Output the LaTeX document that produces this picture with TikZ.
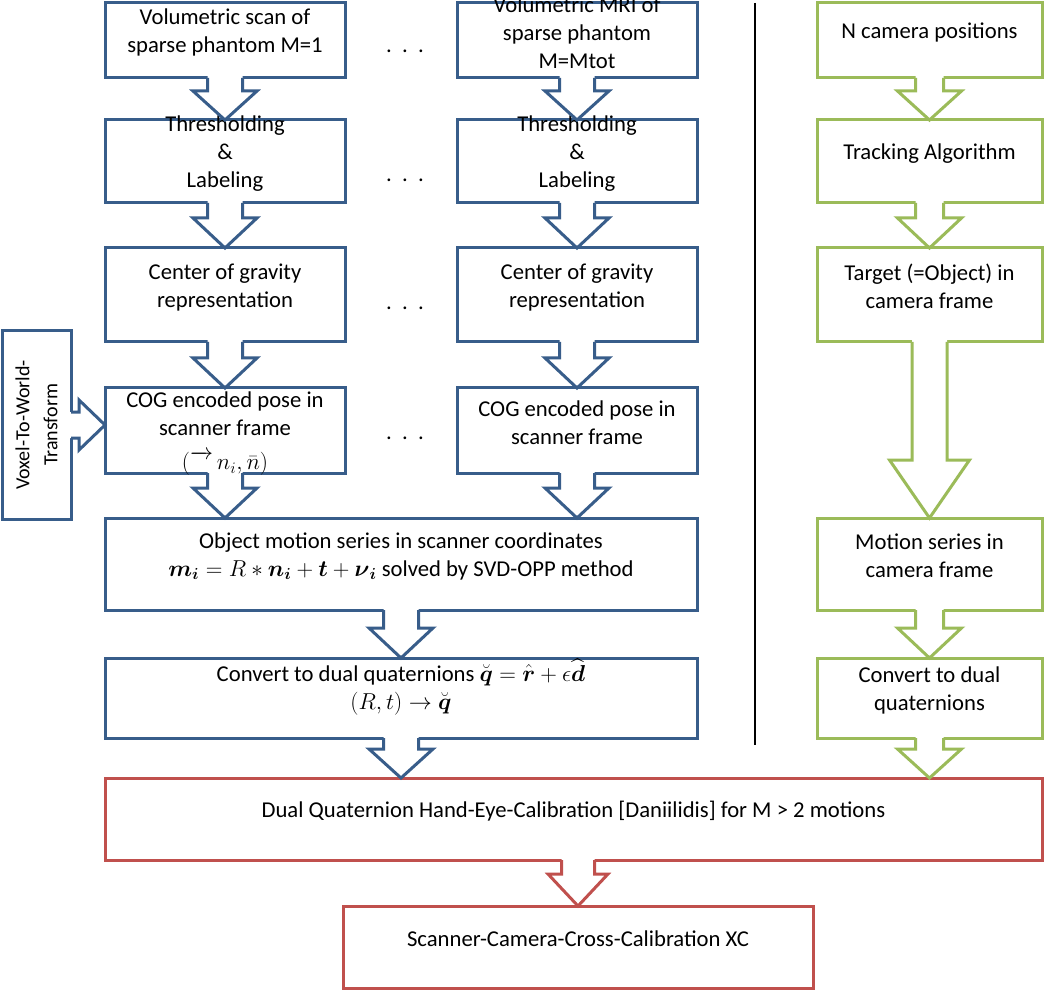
\documentclass[tikz,border=0pt]{standalone}
\usepackage{amsmath}
\usepackage{fontspec}
\setmainfont{Carlito}
\usetikzlibrary{calc,fit}
\definecolor{cblue}{HTML}{385D8A}
\definecolor{cgreen}{HTML}{9BBB59}
\definecolor{cred}{HTML}{C0504D}
\tikzset{
  base/.style={draw, line width=2.25pt, fill=white, inner sep=0pt, outer sep=0pt,
    align=center, font=\fontsize{17pt}{21pt}\selectfont, line join=miter},
  bbox/.style={base, draw=cblue},
  gbox/.style={base, draw=cgreen},
  rbox/.style={base, draw=cred},
  txt/.style={align=center, font=\fontsize{17pt}{21pt}\selectfont, inner sep=0pt},
  dotsnode/.style={anchor=base, font=\fontsize{17pt}{21pt}\selectfont, inner sep=0pt},
}
% block arrow downwards: #1 from, #2 to, #3 colour, #4 node giving x, #5 half shaft, #6 half head, #7 head length (px)
\newcommand{\bdown}[7]{%
  \fill[white] let \p1=(#1.south), \p2=(#2.north), \p3=(#4.center) in
    (\x3-#5*0.75pt,\y1+2pt) -- (\x3-#5*0.75pt,\y2+#7*0.75pt) -- (\x3-#6*0.75pt,\y2+#7*0.75pt)
    -- (\x3,\y2) -- (\x3+#6*0.75pt,\y2+#7*0.75pt) -- (\x3+#5*0.75pt,\y2+#7*0.75pt)
    -- (\x3+#5*0.75pt,\y1+2pt) -- cycle;
  \draw[#3, line width=2.25pt, line join=miter] let \p1=(#1.south), \p2=(#2.north), \p3=(#4.center) in
    (\x3-#5*0.75pt,\y1) -- (\x3-#5*0.75pt,\y2+#7*0.75pt) -- (\x3-#6*0.75pt,\y2+#7*0.75pt)
    -- (\x3,\y2) -- (\x3+#6*0.75pt,\y2+#7*0.75pt) -- (\x3+#5*0.75pt,\y2+#7*0.75pt)
    -- (\x3+#5*0.75pt,\y1);
}
% block arrow to the right
\newcommand{\bright}[6]{%
  \fill[white] let \p1=(#1.east), \p2=(#2.west) in
    (\x1-2pt,\y1+#4*0.75pt) -- (\x2-#6*0.75pt,\y1+#4*0.75pt) -- (\x2-#6*0.75pt,\y1+#5*0.75pt)
    -- (\x2,\y1) -- (\x2-#6*0.75pt,\y1-#5*0.75pt) -- (\x2-#6*0.75pt,\y1-#4*0.75pt)
    -- (\x1-2pt,\y1-#4*0.75pt) -- cycle;
  \draw[#3, line width=2.25pt, line join=miter] let \p1=(#1.east), \p2=(#2.west) in
    (\x1,\y1+#4*0.75pt) -- (\x2-#6*0.75pt,\y1+#4*0.75pt) -- (\x2-#6*0.75pt,\y1+#5*0.75pt)
    -- (\x2,\y1) -- (\x2-#6*0.75pt,\y1-#5*0.75pt) -- (\x2-#6*0.75pt,\y1-#4*0.75pt)
    -- (\x1,\y1-#4*0.75pt);
}
\begin{document}
\begin{tikzpicture}[x=0.75pt,y=-0.75pt]
\useasboundingbox (0,0) rectangle (1050,991);
\fill[white] (0,0) rectangle (1050,991);

% left column A
\node[bbox, fit={(105,3) (345,78)}] (a1) {Volumetric scan of\\sparse phantom M=1};
\node[bbox, fit={(105,120) (345,203)}] (a2) {Thresholding\\\&\\Labeling};
\node[bbox, fit={(105,248) (345,342)}] (a3) {Center of gravity\\representation};
\node[bbox, fit={(105,388) (345,473)}] (a4) {};

% left column B
\node[bbox, fit={(457,3) (697,78)}] (b1) {Volumetric MRI of\\sparse phantom\\M=Mtot};
\node[bbox, fit={(457,120) (697,203)}] (b2) {Thresholding\\\&\\Labeling};
\node[bbox, fit={(457,248) (697,342)}] (b3) {Center of gravity\\representation};
\node[bbox, fit={(457,388) (697,473)}] (b4) {COG encoded pose in\\scanner frame};

% dots
\node[dotsnode] (d1) at (405,53) {.\hspace{0.45em}.\hspace{0.45em}.};
\node[dotsnode] (d2) at (405,182) {.\hspace{0.45em}.\hspace{0.45em}.};
\node[dotsnode] (d3) at (405,310) {.\hspace{0.45em}.\hspace{0.45em}.};
\node[dotsnode] (d4) at (405,440) {.\hspace{0.45em}.\hspace{0.45em}.};

% voxel
\node[bbox, fit={(2,331) (71,519)}] (vx) {};
\node[rotate=90, align=center, font=\fontsize{15pt}{21pt}\selectfont, inner sep=0pt] (vxt) at (vx.center) {Voxel-To-World-\\Transform};

% merged
\node[bbox, fit={(105,518) (697,610)}] (m5) {Object motion series in scanner coordinates\\
  $\boldsymbol{m}_{\boldsymbol{i}} = R \ast \boldsymbol{n}_{\boldsymbol{i}} + \boldsymbol{t} + \boldsymbol{\nu}_{\boldsymbol{i}}$ solved by SVD-OPP method};
\node[bbox, fit={(105,658) (697,738)}] (m6) {Convert to dual quaternions $\breve{\boldsymbol{q}} = \hat{\boldsymbol{r}} + \epsilon\widehat{\boldsymbol{d}}$\\
  $(R,t) \rightarrow \breve{\boldsymbol{q}}$};

% right column
\node[gbox, fit={(817,3) (1042,78)}] (c1) {N camera positions};
\node[gbox, fit={(817,120) (1042,203)}] (c2) {Tracking Algorithm};
\node[gbox, fit={(817,248) (1042,342)}] (c3) {Target (=Object) in\\camera frame};
\node[gbox, fit={(817,518) (1042,610)}] (c5) {Motion series in\\camera frame};
\node[gbox, fit={(817,658) (1042,738)}] (c6) {Convert to dual\\quaternions};

% red
\node[rbox, fit={(105,778) (1042,860)}] (r1) {Dual Quaternion Hand-Eye-Calibration [Daniilidis] for M > 2 motions};
\node[rbox, fit={(343,906) (813,988)}] (r2) {Scanner-Camera-Cross-Calibration XC};

% separator
\coordinate (s1) at (755,3);
\coordinate (s2) at (755,745);
\draw[line width=1.5pt] (s1) -- (s2);

% arrows
\bdown{a1}{a2}{cblue}{a1}{17.5}{32}{29}
\bdown{a2}{a3}{cblue}{a2}{17.5}{32}{30}
\bdown{a3}{a4}{cblue}{a3}{17.5}{32}{30}
\bdown{a4}{m5}{cblue}{a4}{17.5}{32}{30}
\bdown{b1}{b2}{cblue}{b1}{17.5}{32}{29}
\bdown{b2}{b3}{cblue}{b2}{17.5}{32}{30}
\bdown{b3}{b4}{cblue}{b3}{17.5}{32}{30}
\bdown{b4}{m5}{cblue}{b4}{17.5}{32}{30}
\bdown{m5}{m6}{cblue}{m5}{17.5}{32}{30}
\bdown{m6}{r1}{cblue}{m6}{17.5}{32}{29}
\bdown{c1}{c2}{cgreen}{c1}{14}{32}{29}
\bdown{c2}{c3}{cgreen}{c2}{14}{32}{30}
\bdown{c3}{c5}{cgreen}{c3}{17.5}{40}{58}
\bdown{c5}{c6}{cgreen}{c5}{14}{32}{30}
\bdown{c6}{r1}{cgreen}{c6}{14}{32}{29}
\bdown{r1}{r2}{cred}{r2}{16.5}{30}{32}
\bright{vx}{a4}{cblue}{13}{25}{26}

% text of the COG box, drawn on top of the arrow that leaves it
\node[txt, anchor=north] (a4t) at (225,391) {COG encoded pose in\\scanner frame\\[5pt]$(\overrightarrow{\phantom{n}}\,n_i,\bar{n})$};
\end{tikzpicture}
\end{document}
